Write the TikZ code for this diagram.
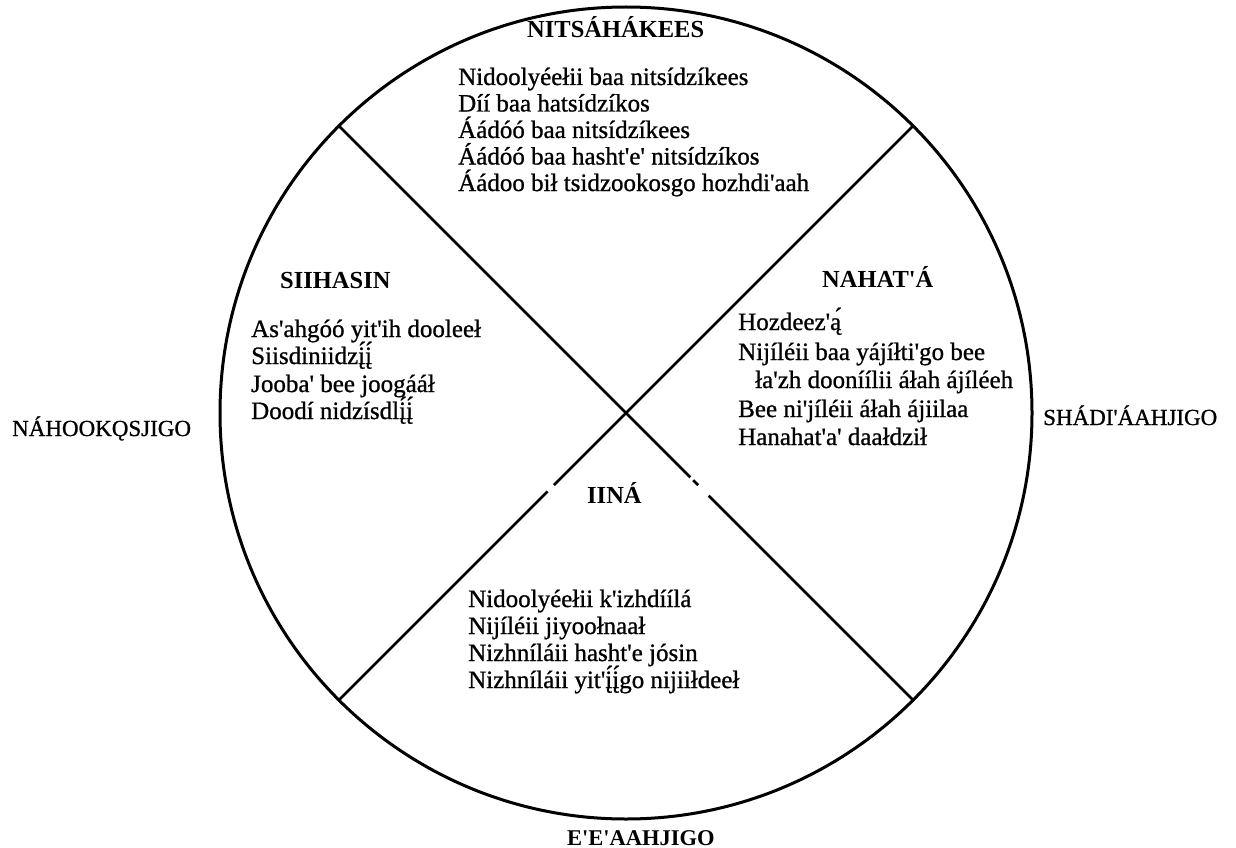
\documentclass[tikz,border=0pt]{standalone}
\usepackage{fontspec}
\newfontfamily\nv{Liberation Serif}[FakeBold=0.9]
\newfontfamily\nvb{Liberation Serif Bold}
\begin{document}
\begin{tikzpicture}[x=1pt,y=-1pt,
  ring/.style={line width=3pt},
  spoke/.style={line width=2.8pt},
  body/.style={font=\nv\fontsize{25}{27}\selectfont, anchor=base west, inner sep=0pt},
  head/.style={font=\nvb\fontsize{24.5}{27}\selectfont, anchor=base west, inner sep=0pt},
  dir/.style={font=\nv\fontsize{23}{27}\selectfont, anchor=base west, inner sep=0pt}]
\useasboundingbox (0,0) rectangle (1236,848);
% the wheel (y grows downwards, so angle 45 points down-right)
\coordinate (c) at (626,413);
\draw[ring] (c) circle[radius=406pt];
\path (c) ++(-45:406) coordinate (ne);
\path (c) ++(225:406) coordinate (nw);
\path (c) ++(135:406) coordinate (sw);
\path (c) ++(45:406) coordinate (se);
\draw[spoke] (nw) -- (c) -- ++(45:91) ++(45:4) -- ++(45:7) ++(45:15) -- (se);
\draw[spoke] (ne) -- (c) -- ++(135:102) ++(135:9) -- (sw);
% north quarter
\node[head] (nh) at (527,38) {NITSÁHÁKEES};
\node[body] (n1) at (458,85) {Nidoolyéełii baa nitsídzíkees};
\node[body] (n2) at (458,111.5) {Díí baa hatsídzíkos};
\node[body] (n3) at (458,138) {Áádóó baa nitsídzíkees};
\node[body] (n4) at (458,164.5) {Áádóó baa hasht'e' nitsídzíkos};
\node[body] (n5) at (458,191) {Áádoo bił tsidzookosgo hozhdi'aah};
% west quarter
\node[head] (wh) at (280,288) {SIIHASIN};
\node[body] (w1) at (251,337) {As'ahgóó yit'ih dooleeł};
\node[body] (w2) at (251,364) {Siisdiniidzį^^^^0301į^^^^0301};
\node[body] (w3) at (251,392) {Jooba' bee joogááł};
\node[body] (w4) at (251,419) {Doodí nidzísdlį^^^^0301į^^^^0301};
% east quarter
\node[head] (eh) at (822,287) {NAHAT'Á};
\node[body] (e1) at (738,330) {Hozdeez'ą^^^^0301};
\node[body] (e2) at (738,360) {Nijíléii baa yájíłti'go bee};
\node[body] (e3) at (755,388) {ła'zh dooníílii áłah ájíléeh};
\node[body] (e4) at (738,417) {Bee ni'jíléii áłah ájiilaa};
\node[body] (e5) at (738,445) {Hanahat'a' daałdził};
% south quarter
\node[head] (sh) at (587,503) {IINÁ};
\node[body] (s1) at (468,607) {Nidoolyéełii k'izhdíílá};
\node[body] (s2) at (468,634) {Nijíléii jiyoołnaał};
\node[body] (s3) at (468,661) {Nizhníláii hasht'e jósin};
\node[body] (s4) at (468,688) {Nizhníláii yit'į^^^^0301į^^^^0301go nijiiłdeeł};
% directions
\node[dir] (dw) at (12,436) {NÁHOOKǪSJIGO};
\node[dir] (de) at (1043,425) {SHÁDI'ÁAHJIGO};
\node[dir,font=\nvb\fontsize{22.5}{27}\selectfont] (ds) at (567,845) {E'E'AAHJIGO};
\end{tikzpicture}
\end{document}
